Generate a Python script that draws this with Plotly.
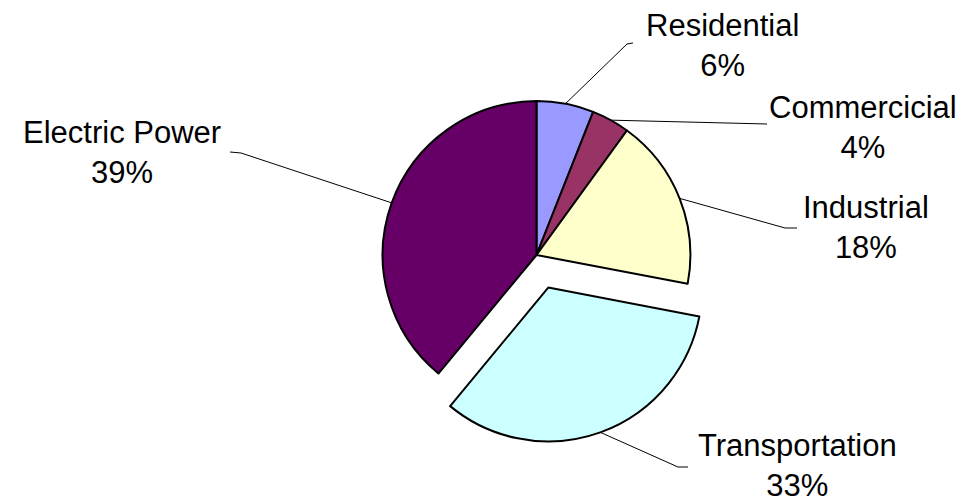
import math
import plotly.graph_objects as go

labels = ["Residential", "Commercicial", "Industrial", "Transportation", "Electric Power"]
values = [6, 4, 18, 33, 39]
colors = ["#9999FF", "#993366", "#FFFFCC", "#CCFFFF", "#660066"]
pulls = [0, 0, 0, 0.225, 0]

W, H = 962, 502
# pie placement (pixels)
CX, CY, BOX = 536.5, 255.0, 377.0
dom_x = [(CX - BOX / 2) / W, (CX + BOX / 2) / W]
dom_y = [1 - (CY + BOX / 2) / H, 1 - (CY - BOX / 2) / H]
R = BOX / (2 + 2 * max(pulls))

# label placements (pixel centres) and leader elbows
label_pos = [(722, 45), (863, 127), (866, 227), (797, 465), (122, 153)]
elbows = [
    [(633, 43), (627, 44)],
    [(767, 124)],
    [(797, 228), (785, 228)],
    [(688, 467), (678, 467)],
    [(230, 152), (241, 153)],
]

fig = go.Figure(go.Pie(
    labels=labels, values=values, sort=False, direction="clockwise", rotation=0,
    marker=dict(colors=colors, line=dict(color="black", width=2)),
    pull=pulls, textinfo="none", hoverinfo="label+percent",
    domain=dict(x=dom_x, y=dom_y), showlegend=False,
))

total = sum(values)
cum = 0
annotations, shapes = [], []
for i, (lab, v) in enumerate(zip(labels, values)):
    mid = (cum + v / 2) / total * 2 * math.pi
    cum += v
    off = pulls[i] * R
    ax = CX + (R + off) * math.sin(mid)
    ay = CY - (R + off) * math.cos(mid)
    pct = round(v / total * 100)
    lx, ly = label_pos[i]
    annotations.append(dict(
        x=lx / W, y=1 - ly / H, xref="paper", yref="paper",
        text=f"{lab}<br>{pct}%", showarrow=False, xanchor="center", yanchor="middle",
        font=dict(family="Liberation Sans, Arial", size=31, color="black"), align="center",
    ))
    pts = elbows[i] + [(ax, ay)]
    path = "M " + " L ".join(f"{px / W:.5f},{1 - py / H:.5f}" for px, py in pts)
    shapes.append(dict(type="path", path=path, xref="paper", yref="paper",
                       line=dict(color="black", width=1)))

fig.update_layout(
    width=W, height=H, margin=dict(l=0, r=0, t=0, b=0),
    paper_bgcolor="white", plot_bgcolor="white",
    annotations=annotations, shapes=shapes,
)
fig.write_html("out.html")
